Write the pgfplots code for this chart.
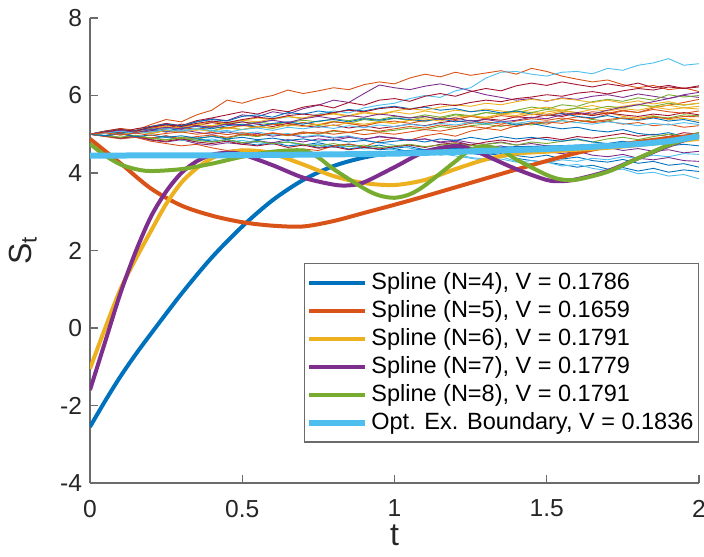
\documentclass[border=0pt]{standalone}
\usepackage{pgfplots}
\pgfplotsset{compat=1.18}
\usepackage{fontspec}
\setmainfont{Liberation Sans}
\definecolor{c1}{rgb}{0,0.447,0.741}
\definecolor{c2}{rgb}{0.85,0.325,0.098}
\definecolor{c3}{rgb}{0.929,0.694,0.125}
\definecolor{c4}{rgb}{0.494,0.184,0.556}
\definecolor{c5}{rgb}{0.466,0.674,0.188}
\definecolor{c6}{rgb}{0.301,0.745,0.933}
\definecolor{c7}{rgb}{0.635,0.078,0.184}
\definecolor{axc}{rgb}{0.15,0.15,0.15}
\definecolor{axl}{rgb}{0.42,0.42,0.42}
\newcommand{\pth}[2]{\addplot[color=#1, line width=0.45pt, forget plot] table[row sep=\\, header=false, x expr=\coordindex*0.05, y index=0] {#2};}
\begin{document}
\begin{tikzpicture}
\begin{axis}[
  at={(0,0)}, anchor=south west,
  scale only axis, width=304.5pt, height=232.5pt,
  xmin=0, xmax=2, ymin=-4, ymax=8,
  xtick={0,0.5,1,1.5,2}, ytick={-4,-2,0,2,4,6,8},
  axis lines=left, axis line style={-, draw=axl, line width=0.6pt},
  major tick length=4pt, tick style={draw=axl, line width=0.6pt},
  tick align=inside,
  /pgf/number format/assume math mode=true,
  ticklabel style={font=\fontsize{12.3}{14}\selectfont, text=axc},
  xticklabel style={yshift=-5pt},
  yticklabel style={xshift=-0.5pt},
  xlabel={t}, ylabel={S\textsubscript{t}},
  label style={font=\fontsize{16}{19}\selectfont, text=axc},
  xlabel style={at={(axis description cs:0.5,-0.112)}, anchor=center, inner sep=0pt},
  ylabel style={at={(axis description cs:-0.11,0.5)}, anchor=center},
  legend style={at={(1,0.087)}, anchor=south east, draw=axl, line width=0.6pt,
    font=\fontsize{11.75}{14}\selectfont, fill=white,
    inner xsep=1pt, inner ysep=2.5pt, nodes={inner xsep=1.5pt}},
  legend cell align=left,
  legend image code/.code={\draw[#1] (0pt,0pt) -- (28pt,0pt);},
]
\pth{c1}{5.00\\4.97\\5.04\\4.95\\4.90\\4.96\\4.85\\4.88\\4.80\\4.86\\4.78\\4.72\\4.79\\4.70\\4.74\\4.66\\4.71\\4.62\\4.68\\4.60\\4.63\\4.55\\4.60\\4.52\\4.58\\4.50\\4.47\\4.54\\4.45\\4.40\\4.46\\4.36\\4.41\\4.32\\4.28\\4.35\\4.25\\4.30\\4.20\\4.24\\4.15\\}
\pth{c2}{5.00\\5.08\\5.15\\5.10\\5.25\\5.38\\5.32\\5.50\\5.62\\5.88\\5.80\\5.92\\6.00\\6.14\\6.05\\6.12\\6.20\\6.15\\6.28\\6.35\\6.30\\6.45\\6.55\\6.48\\6.60\\6.52\\6.58\\6.64\\6.55\\6.70\\6.62\\6.50\\6.42\\6.35\\6.40\\6.28\\6.20\\6.26\\6.15\\6.20\\6.10\\}
\pth{c3}{5.00\\5.05\\4.98\\5.08\\5.12\\5.06\\5.15\\5.10\\5.20\\5.14\\5.22\\5.18\\5.28\\5.21\\5.30\\5.25\\5.34\\5.27\\5.22\\5.31\\5.28\\5.36\\5.32\\5.42\\5.38\\5.47\\5.44\\5.52\\5.48\\5.57\\5.52\\5.60\\5.55\\5.50\\5.56\\5.46\\5.42\\5.48\\5.38\\5.41\\5.35\\}
\pth{c4}{5.00\\5.06\\5.12\\5.05\\5.18\\5.25\\5.20\\5.32\\5.40\\5.35\\5.50\\5.45\\5.58\\5.52\\5.66\\5.75\\5.88\\5.82\\6.05\\6.27\\6.20\\6.15\\6.24\\6.30\\6.22\\6.12\\6.02\\5.95\\5.88\\5.92\\5.85\\5.94\\5.90\\5.98\\6.02\\5.95\\6.04\\5.98\\5.92\\6.00\\5.95\\}
\pth{c5}{5.00\\4.96\\5.03\\5.08\\5.01\\5.10\\5.05\\5.14\\5.09\\5.18\\5.12\\5.20\\5.15\\5.24\\5.30\\5.22\\5.32\\5.28\\5.38\\5.33\\5.41\\5.36\\5.45\\5.40\\5.50\\5.46\\5.56\\5.52\\5.62\\5.70\\5.65\\5.76\\5.72\\5.84\\5.90\\5.85\\5.94\\5.88\\6.02\\5.96\\6.00\\}
\pth{c6}{5.00\\5.04\\4.98\\5.07\\5.12\\5.06\\5.15\\5.22\\5.17\\5.28\\5.32\\5.26\\5.38\\5.45\\5.40\\5.52\\5.60\\5.55\\5.68\\5.75\\5.80\\5.92\\6.00\\5.95\\6.12\\6.20\\6.45\\6.60\\6.62\\6.55\\6.50\\6.60\\6.62\\6.56\\6.70\\6.65\\6.78\\6.84\\6.95\\6.78\\6.82\\}
\pth{c7}{5.00\\5.08\\5.14\\5.06\\5.20\\5.28\\5.22\\5.35\\5.42\\5.50\\5.58\\5.52\\5.64\\5.58\\5.70\\5.76\\5.68\\5.82\\5.75\\5.88\\5.92\\5.85\\5.98\\6.05\\5.98\\6.10\\6.18\\6.12\\6.25\\6.32\\6.26\\6.35\\6.28\\6.22\\6.30\\6.24\\6.32\\6.20\\6.26\\6.18\\6.22\\}
\pth{c1}{5.00\\4.95\\5.02\\4.92\\4.88\\4.95\\4.85\\4.90\\4.82\\4.86\\4.78\\4.84\\4.76\\4.80\\4.72\\4.78\\4.70\\4.74\\4.66\\4.72\\4.64\\4.68\\4.60\\4.66\\4.58\\4.52\\4.45\\4.50\\4.38\\4.32\\4.28\\4.22\\4.15\\4.20\\4.10\\4.14\\4.05\\4.12\\4.02\\4.08\\4.04\\}
\pth{c2}{5.00\\4.94\\4.88\\4.92\\4.82\\4.76\\4.70\\4.74\\4.65\\4.58\\4.62\\4.52\\4.48\\4.55\\4.62\\4.58\\4.70\\4.75\\4.68\\4.82\\4.90\\4.85\\4.96\\5.02\\4.95\\5.08\\5.15\\5.10\\5.22\\5.30\\5.26\\5.38\\5.45\\5.40\\5.52\\5.60\\5.56\\5.68\\5.75\\5.82\\5.90\\}
\pth{c3}{5.00\\5.06\\5.12\\5.08\\5.16\\5.22\\5.18\\5.26\\5.32\\5.28\\5.36\\5.42\\5.38\\5.46\\5.40\\5.48\\5.52\\5.46\\5.55\\5.50\\5.58\\5.52\\5.60\\5.54\\5.62\\5.58\\5.65\\5.60\\5.56\\5.64\\5.70\\5.62\\5.68\\5.74\\5.66\\5.72\\5.78\\5.70\\5.75\\5.68\\5.72\\}
\pth{c4}{5.00\\4.96\\4.90\\4.94\\4.85\\4.80\\4.86\\4.76\\4.72\\4.78\\4.74\\4.82\\4.78\\4.86\\4.80\\4.88\\4.84\\4.92\\4.86\\4.95\\4.90\\4.84\\4.88\\4.78\\4.82\\4.72\\4.66\\4.70\\4.60\\4.64\\4.55\\4.50\\4.56\\4.46\\4.42\\4.48\\4.38\\4.34\\4.40\\4.32\\4.30\\}
\pth{c5}{5.00\\5.05\\5.02\\5.10\\5.06\\5.14\\5.18\\5.12\\5.22\\5.28\\5.24\\5.32\\5.26\\5.30\\5.36\\5.32\\5.40\\5.35\\5.42\\5.38\\5.46\\5.42\\5.50\\5.44\\5.52\\5.48\\5.56\\5.52\\5.60\\5.56\\5.64\\5.60\\5.68\\5.64\\5.72\\5.68\\5.76\\5.72\\5.80\\5.75\\5.80\\}
\pth{c6}{5.00\\4.97\\4.92\\4.96\\4.88\\4.92\\4.85\\4.82\\4.88\\4.80\\4.84\\4.78\\4.74\\4.80\\4.70\\4.74\\4.66\\4.70\\4.62\\4.66\\4.60\\4.52\\4.58\\4.46\\4.50\\4.40\\4.36\\4.42\\4.30\\4.24\\4.28\\4.18\\4.22\\4.12\\4.06\\4.10\\3.98\\4.02\\3.92\\3.96\\3.85\\}
\pth{c7}{5.00\\5.08\\5.04\\5.14\\5.20\\5.15\\5.26\\5.22\\5.30\\5.25\\5.32\\5.26\\5.20\\5.28\\5.22\\5.18\\5.24\\5.16\\5.22\\5.15\\5.20\\5.26\\5.22\\5.30\\5.35\\5.30\\5.40\\5.36\\5.45\\5.42\\5.50\\5.46\\5.54\\5.48\\5.55\\5.50\\5.46\\5.52\\5.48\\5.56\\5.50\\}
\pth{c1}{5.00\\5.07\\5.12\\5.08\\5.20\\5.26\\5.22\\5.32\\5.38\\5.34\\5.46\\5.50\\5.44\\5.56\\5.52\\5.60\\5.55\\5.64\\5.60\\5.68\\5.72\\5.66\\5.70\\5.62\\5.66\\5.58\\5.62\\5.55\\5.60\\5.52\\5.48\\5.54\\5.46\\5.42\\5.48\\5.40\\5.36\\5.42\\5.34\\5.38\\5.30\\}
\pth{c2}{5.00\\4.95\\5.04\\5.10\\5.05\\5.14\\5.18\\5.12\\5.20\\5.16\\5.24\\5.18\\5.26\\5.22\\5.30\\5.24\\5.32\\5.28\\5.22\\5.30\\5.34\\5.28\\5.36\\5.42\\5.38\\5.46\\5.40\\5.48\\5.44\\5.52\\5.48\\5.56\\5.50\\5.58\\5.54\\5.62\\5.56\\5.64\\5.58\\5.54\\5.60\\}
\pth{c3}{5.00\\5.06\\5.10\\5.04\\5.14\\5.20\\5.16\\5.26\\5.22\\5.30\\5.36\\5.32\\5.40\\5.46\\5.42\\5.50\\5.54\\5.48\\5.58\\5.52\\5.60\\5.66\\5.62\\5.70\\5.76\\5.72\\5.80\\5.76\\5.84\\5.90\\5.86\\5.92\\5.88\\5.82\\5.88\\5.80\\5.86\\5.78\\5.84\\5.76\\5.80\\}
\pth{c4}{5.00\\5.04\\5.08\\5.02\\5.10\\5.06\\5.12\\5.05\\5.00\\5.06\\4.98\\5.02\\4.95\\5.00\\4.92\\4.96\\4.90\\4.94\\4.88\\4.93\\4.90\\4.84\\4.88\\4.80\\4.85\\4.78\\4.74\\4.80\\4.72\\4.76\\4.70\\4.64\\4.70\\4.62\\4.66\\4.58\\4.63\\4.56\\4.60\\4.52\\4.56\\}
\pth{c5}{5.00\\4.96\\4.92\\4.97\\4.90\\4.86\\4.92\\4.88\\4.95\\4.90\\4.98\\4.94\\5.02\\4.96\\5.05\\5.00\\5.08\\5.04\\5.12\\5.06\\5.10\\5.16\\5.12\\5.20\\5.15\\5.22\\5.26\\5.20\\5.28\\5.24\\5.30\\5.35\\5.30\\5.38\\5.34\\5.42\\5.38\\5.46\\5.42\\5.50\\5.48\\}
\pth{c6}{5.00\\5.05\\5.10\\5.04\\5.12\\5.16\\5.10\\5.14\\5.06\\5.10\\5.02\\5.06\\4.98\\5.02\\4.94\\4.98\\4.92\\4.96\\4.85\\4.78\\4.72\\4.64\\4.58\\4.50\\4.44\\4.38\\4.32\\4.36\\4.28\\4.32\\4.26\\4.34\\4.30\\4.38\\4.34\\4.42\\4.38\\4.46\\4.42\\4.50\\4.48\\}
\pth{c7}{5.00\\4.95\\4.90\\4.96\\4.86\\4.82\\4.88\\4.80\\4.76\\4.82\\4.74\\4.70\\4.76\\4.66\\4.72\\4.64\\4.68\\4.60\\4.66\\4.62\\4.68\\4.72\\4.66\\4.74\\4.78\\4.72\\4.80\\4.85\\4.80\\4.88\\4.92\\4.86\\4.94\\4.90\\4.96\\5.02\\4.95\\5.00\\4.94\\5.04\\5.00\\}
\pth{c1}{5.00\\5.06\\5.02\\5.10\\5.14\\5.08\\5.16\\5.20\\5.14\\5.22\\5.26\\5.20\\5.28\\5.32\\5.26\\5.34\\5.38\\5.32\\5.40\\5.36\\5.42\\5.38\\5.34\\5.40\\5.32\\5.36\\5.28\\5.32\\5.24\\5.28\\5.20\\5.14\\5.18\\5.10\\5.06\\5.12\\5.02\\4.98\\5.04\\4.94\\4.90\\}
\pth{c2}{5.00\\4.96\\5.02\\4.94\\4.90\\4.96\\4.88\\4.94\\4.98\\4.92\\5.00\\4.96\\5.04\\4.98\\5.06\\5.02\\5.10\\5.05\\5.12\\5.08\\5.14\\5.20\\5.16\\5.24\\5.20\\5.28\\5.32\\5.26\\5.34\\5.40\\5.36\\5.42\\5.36\\5.30\\5.34\\5.26\\5.30\\5.22\\5.26\\5.18\\5.22\\}
\pth{c3}{5.00\\5.04\\4.98\\5.06\\5.02\\5.10\\5.06\\5.12\\5.08\\5.16\\5.12\\5.20\\5.16\\5.24\\5.20\\5.26\\5.22\\5.30\\5.26\\5.32\\5.28\\5.36\\5.40\\5.34\\5.44\\5.48\\5.42\\5.52\\5.56\\5.50\\5.58\\5.62\\5.56\\5.64\\5.60\\5.66\\5.62\\5.70\\5.64\\5.68\\5.65\\}
\pth{c4}{5.00\\5.05\\5.10\\5.04\\5.12\\5.18\\5.14\\5.22\\5.18\\5.26\\5.22\\5.30\\5.36\\5.30\\5.40\\5.46\\5.40\\5.48\\5.44\\5.52\\5.48\\5.42\\5.46\\5.38\\5.42\\5.34\\5.38\\5.32\\5.36\\5.44\\5.40\\5.50\\5.56\\5.52\\5.62\\5.70\\5.76\\5.84\\5.92\\6.02\\6.08\\}
\pth{c5}{5.00\\4.96\\4.92\\4.97\\4.90\\4.85\\4.90\\4.84\\4.80\\4.86\\4.78\\4.82\\4.76\\4.80\\4.74\\4.70\\4.76\\4.68\\4.72\\4.66\\4.70\\4.74\\4.68\\4.72\\4.76\\4.70\\4.74\\4.78\\4.72\\4.80\\4.76\\4.82\\4.86\\4.80\\4.88\\4.92\\4.86\\4.94\\5.00\\4.96\\5.05\\}
\pth{c6}{5.00\\5.03\\5.08\\5.02\\5.06\\5.12\\5.07\\5.14\\5.10\\5.05\\5.12\\5.16\\5.10\\5.18\\5.14\\5.20\\5.15\\5.22\\5.17\\5.24\\5.20\\5.26\\5.21\\5.28\\5.24\\5.30\\5.26\\5.32\\5.28\\5.34\\5.30\\5.35\\5.30\\5.26\\5.32\\5.28\\5.22\\5.28\\5.24\\5.30\\5.25\\}
\pth{c7}{5.00\\5.06\\5.12\\5.08\\5.18\\5.24\\5.20\\5.28\\5.34\\5.30\\5.38\\5.44\\5.40\\5.48\\5.52\\5.48\\5.56\\5.62\\5.58\\5.66\\5.70\\5.64\\5.72\\5.78\\5.74\\5.82\\5.88\\5.84\\5.92\\5.96\\6.02\\5.98\\6.06\\6.10\\6.04\\6.12\\6.18\\6.14\\6.22\\6.18\\6.25\\}
\pth{c1}{5.00\\4.96\\5.01\\4.94\\4.98\\4.92\\4.96\\4.90\\4.94\\4.88\\4.92\\4.86\\4.90\\4.84\\4.88\\4.82\\4.86\\4.80\\4.84\\4.78\\4.82\\4.86\\4.80\\4.88\\4.84\\4.92\\4.86\\4.94\\4.88\\4.92\\4.86\\4.82\\4.88\\4.80\\4.76\\4.82\\4.74\\4.78\\4.70\\4.74\\4.70\\}
\pth{c2}{5.00\\5.04\\4.98\\5.03\\4.97\\5.02\\5.06\\5.00\\5.05\\4.99\\5.04\\4.98\\5.03\\4.97\\5.02\\5.06\\5.00\\5.05\\4.99\\5.04\\5.00\\5.06\\5.12\\5.08\\5.15\\5.20\\5.16\\5.24\\5.20\\5.28\\5.32\\5.28\\5.36\\5.32\\5.38\\5.42\\5.38\\5.44\\5.40\\5.46\\5.45\\}
% splines
\addplot[color=c1, line width=2pt, smooth] coordinates {(0,-2.55)(0.05,-1.88)(0.1,-1.25)(0.15,-0.68)(0.2,-0.15)(0.3,0.88)(0.4,1.82)(0.5,2.62)(0.6,3.3)(0.7,3.82)(0.8,4.18)(0.9,4.4)(1.0,4.52)(1.2,4.6)(1.4,4.64)(1.6,4.68)(1.8,4.77)(2.0,4.92)};
\addlegendentry{Spline (N=4), V = 0.1786}
\addplot[color=c2, line width=2pt, smooth] coordinates {(0,4.88)(0.1,4.25)(0.2,3.6)(0.3,3.16)(0.4,2.9)(0.5,2.73)(0.6,2.64)(0.7,2.62)(0.8,2.76)(0.9,2.97)(1.0,3.18)(1.1,3.4)(1.2,3.63)(1.3,3.86)(1.4,4.09)(1.5,4.31)(1.6,4.52)(1.7,4.68)(1.8,4.8)(1.9,4.9)(2.0,4.98)};
\addlegendentry{Spline (N=5), V = 0.1659}
\addplot[color=c3, line width=2pt, smooth] coordinates {(0,-1.05)(0.05,0.0)(0.1,1.0)(0.15,1.78)(0.2,2.5)(0.25,3.2)(0.3,3.75)(0.35,4.12)(0.4,4.38)(0.45,4.52)(0.5,4.58)(0.55,4.57)(0.6,4.5)(0.7,4.22)(0.8,3.92)(0.9,3.74)(1.0,3.69)(1.1,3.82)(1.2,4.1)(1.3,4.35)(1.4,4.5)(1.5,4.55)(1.6,4.6)(1.7,4.65)(1.8,4.72)(1.9,4.8)(2.0,4.88)};
\addlegendentry{Spline (N=6), V = 0.1791}
\addplot[color=c4, line width=2pt, smooth] coordinates {(0,-1.6)(0.05,-0.35)(0.1,0.9)(0.15,1.97)(0.2,2.87)(0.25,3.52)(0.3,4.0)(0.35,4.3)(0.4,4.47)(0.45,4.52)(0.5,4.48)(0.6,4.2)(0.7,3.88)(0.8,3.7)(0.85,3.68)(0.9,3.76)(1.0,4.15)(1.1,4.55)(1.2,4.7)(1.25,4.62)(1.3,4.45)(1.4,4.1)(1.5,3.82)(1.55,3.79)(1.6,3.84)(1.7,4.05)(1.8,4.38)(1.9,4.7)(2.0,4.98)};
\addlegendentry{Spline (N=7), V = 0.1779}
\addplot[color=c5, line width=2pt, smooth] coordinates {(0,4.75)(0.05,4.45)(0.1,4.22)(0.15,4.1)(0.2,4.05)(0.3,4.1)(0.4,4.24)(0.5,4.42)(0.6,4.55)(0.7,4.58)(0.75,4.4)(0.8,4.1)(0.9,3.6)(0.95,3.42)(1.0,3.36)(1.05,3.45)(1.1,3.68)(1.2,4.3)(1.25,4.6)(1.3,4.68)(1.35,4.6)(1.4,4.35)(1.5,3.95)(1.55,3.83)(1.6,3.83)(1.7,4.03)(1.8,4.38)(1.9,4.72)(2.0,4.98)};
\addlegendentry{Spline (N=8), V = 0.1791}
\addplot[color=c6, line width=3pt, smooth] coordinates {(0,4.45)(0.5,4.46)(1.0,4.5)(1.25,4.56)(1.5,4.62)(1.75,4.72)(1.9,4.82)(2.0,4.95)};
\addlegendentry{Opt. Ex. Boundary, V = 0.1836}
\end{axis}
\pgfresetboundingbox
\useasboundingbox (-45pt,-36.5pt) rectangle (307pt,241.5pt);
\end{tikzpicture}
\end{document}
